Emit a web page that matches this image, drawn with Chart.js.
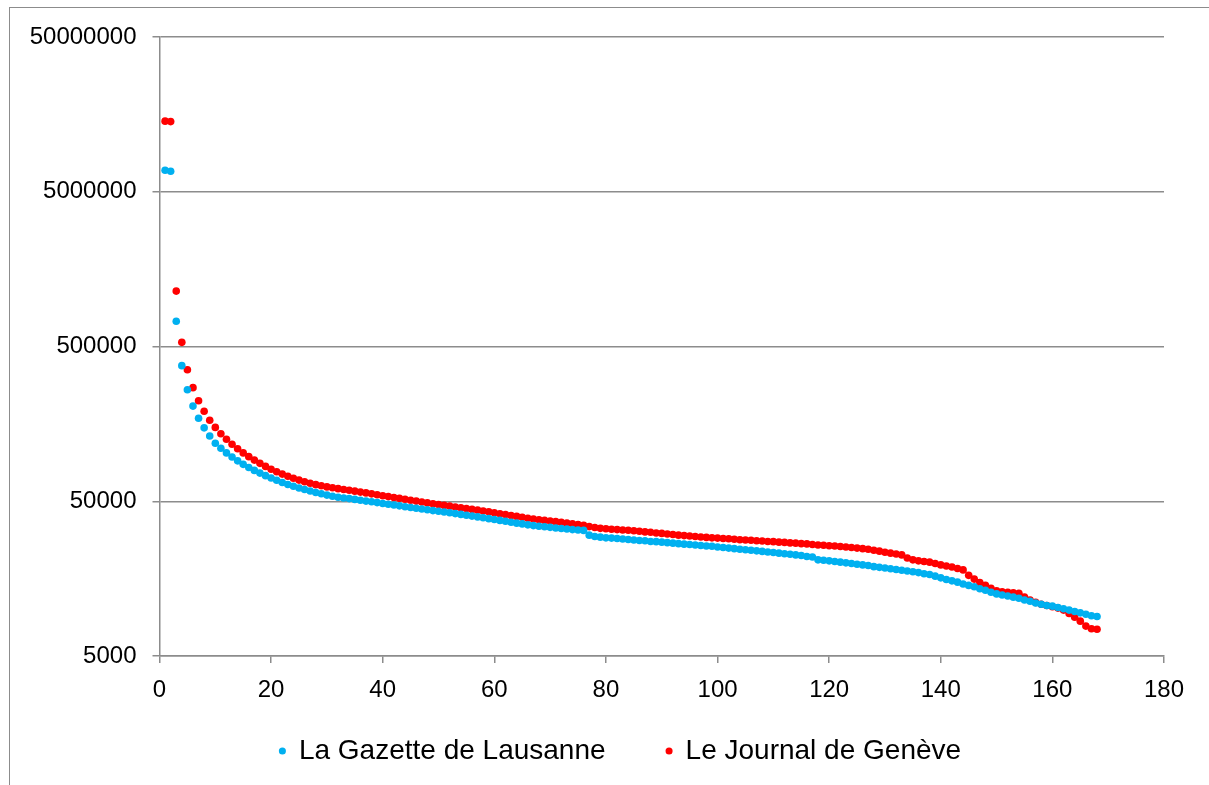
<!DOCTYPE html>
<html>
<head>
<meta charset="utf-8">
<title>Gazette / Journal</title>
<script src="https://cdn.jsdelivr.net/npm/chart.js@4.4.1/dist/chart.umd.min.js"></script>
<style>
    html, body { margin: 0; padding: 0; background: #fff; overflow: hidden; }
    #frame {
        position: absolute; left: 9px; top: 7px;
        width: 1400px; height: 1000px;
        border: 1.5px solid #8c8c8c; box-sizing: border-box;
    }
    #chart { position: absolute; left: 0; top: 0; }
</style>
</head>
<body>
<div id="frame"></div>
<canvas id="chart" width="1209" height="785"></canvas>
<script>
// Values, rank 1..168
var gazette = [
    6890000, 6790000, 728000, 376000, 263000, 206000, 172000, 149000, 132000, 118500,
    110000, 102700, 96500, 91200, 86600, 82600, 79100, 76000, 73200, 70700,
    68300, 66100, 64200, 62500, 60900, 59500, 58200, 57000, 55900, 54800,
    53900, 53100, 52500, 52000, 51400, 50700, 50100, 49600, 49000, 48400,
    47800, 47300, 46700, 46100, 45600, 45100, 44600, 44100, 43500, 43100,
    42600, 42100, 41600, 41100, 40600, 40100, 39600, 39100, 38600, 38100,
    37600, 37100, 36600, 36100, 35700, 35200, 34800, 34500, 34200, 33900,
    33600, 33300, 33100, 32800, 32600, 32400, 30200, 29600, 29300, 29000,
    28900, 28700, 28500, 28300, 28100, 27900, 27800, 27500, 27400, 27200,
    27000, 26800, 26600, 26400, 26300, 26100, 25900, 25700, 25600, 25300,
    25100, 24900, 24700, 24500, 24300, 24100, 23900, 23700, 23500, 23300,
    23100, 22900, 22700, 22500, 22300, 22000, 21800, 20900, 20800, 20600,
    20400, 20200, 20000, 19800, 19600, 19400, 19200, 18900, 18700, 18500,
    18300, 18100, 17900, 17700, 17500, 17300, 17000, 16800, 16400, 16000,
    15600, 15300, 15000, 14600, 14300, 14000, 13600, 13300, 12900, 12600,
    12400, 12200, 12000, 11800, 11500, 11300, 11000, 10800, 10600, 10500,
    10300, 10100, 9900, 9700, 9500, 9300, 9100, 9000
];

var journal = [
    14300000, 14200000, 1140000, 532000, 354000, 271000, 223000, 191000, 167000, 150000,
    136500, 125800, 116800, 109200, 102700, 97100, 92200, 87900, 84000, 80500,
    77600, 74900, 72500, 70400, 68500, 66800, 65400, 64000, 62900, 61900,
    61100, 60300, 59600, 58900, 58100, 57300, 56600, 55800, 55100, 54300,
    53600, 52900, 52200, 51500, 50800, 50100, 49500, 48800, 48200, 47600,
    47000, 46500, 45900, 45400, 44900, 44300, 43800, 43200, 42700, 42100,
    41500, 41000, 40400, 39900, 39400, 38800, 38400, 38000, 37600, 37200,
    36900, 36500, 36100, 35700, 35300, 35000, 34300, 33800, 33400, 33200,
    33000, 32800, 32600, 32500, 32200, 32000, 31700, 31500, 31200, 31000,
    30700, 30500, 30200, 30000, 29800, 29600, 29400, 29200, 29000, 28900,
    28700, 28600, 28400, 28200, 28100, 28000, 27800, 27700, 27500, 27400,
    27200, 27100, 26900, 26800, 26600, 26500, 26300, 26100, 26000, 25800,
    25700, 25500, 25300, 25100, 24900, 24700, 24500, 24100, 23800, 23400,
    23100, 22800, 22500, 21500, 20900, 20600, 20400, 20200, 19800, 19400,
    19100, 18800, 18400, 18000, 16600, 15700, 14900, 14300, 13700, 13200,
    13000, 12900, 12800, 12700, 12000, 11500, 11100, 10800, 10600, 10400,
    10200, 9900, 9400, 8900, 8400, 7800, 7500, 7450
];

var seriesNames = ['La Gazette de Lausanne', 'Le Journal de Genève'];
var yTicks = [5000, 50000, 500000, 5000000, 50000000];
var xMin = 0, xMax = 180, xStep = 20;

var FONT = '"Liberation Sans", Arial, sans-serif';
var GRID = '#8c8c8c';

// rank on x, value on y
function toPoints(values) {
    return values.map(function(v, i) {
        return { x: i + 1, y: v };
    });
}

function makeDataset(label, values, color) {
    return {
        label: label,
        data: toPoints(values),
        backgroundColor: color,
        borderColor: color,
        borderWidth: 0,
        pointRadius: 3.8,
        pointHoverRadius: 3.8
    };
}

// Legend sits a bit right of centre and higher than its layout box in the original.
// The legend clips to its own box, so stretch the box down to the canvas bottom.
var legendShift = {
    id: 'legendShift',
    afterLayout: function(chart) {
        var lg = chart.legend;
        lg.left += 38.5;
        lg.right += 38.5;
        lg.top = 676;
        lg.bottom = chart.height;
        lg.height = lg.bottom - lg.top;
    }
};

new Chart(document.getElementById('chart'), {
    type: 'scatter',
    data: {
        datasets: [
            makeDataset(seriesNames[0], gazette, '#00b0f0'),
            makeDataset(seriesNames[1], journal, '#ff0000')
        ]
    },
    plugins: [legendShift],
    options: {
        responsive: false,
        animation: false,
        layout: {
            padding: { left: 0, right: 45, top: 37, bottom: 0 }
        },
        plugins: {
            tooltip: { enabled: false },
            legend: {
                position: 'bottom',
                maxHeight: 60,
                labels: {
                    usePointStyle: true,
                    boxWidth: 5,
                    boxHeight: 5,
                    padding: 61,
                    color: '#000',
                    font: { family: FONT, size: 28 }
                }
            }
        },
        scales: {
            x: {
                type: 'linear',
                min: xMin,
                max: xMax,
                afterFit: function(scale) { scale.height = 69; },
                ticks: {
                    stepSize: xStep,
                    padding: 12.6,
                    maxRotation: 0,
                    color: '#000',
                    font: { family: FONT, size: 24 }
                },
                grid: {
                    drawOnChartArea: false,
                    drawTicks: true,
                    tickLength: 7,
                    color: GRID,
                    lineWidth: 1.5
                },
                border: { color: GRID, width: 1.5 }
            },
            y: {
                type: 'logarithmic',
                min: yTicks[0],
                max: yTicks[yTicks.length - 1],
                afterFit: function(scale) { scale.width = 159.5; },
                afterBuildTicks: function(scale) {
                    scale.ticks = yTicks.map(function(v) { return { value: v }; });
                },
                ticks: {
                    padding: 16,
                    color: '#000',
                    font: { family: FONT, size: 24 },
                    callback: function(v) { return String(v); }
                },
                grid: {
                    color: GRID,
                    lineWidth: 1.5,
                    tickLength: 7
                },
                border: { color: GRID, width: 1.5 }
            }
        }
    }
});
</script>
</body>
</html>
